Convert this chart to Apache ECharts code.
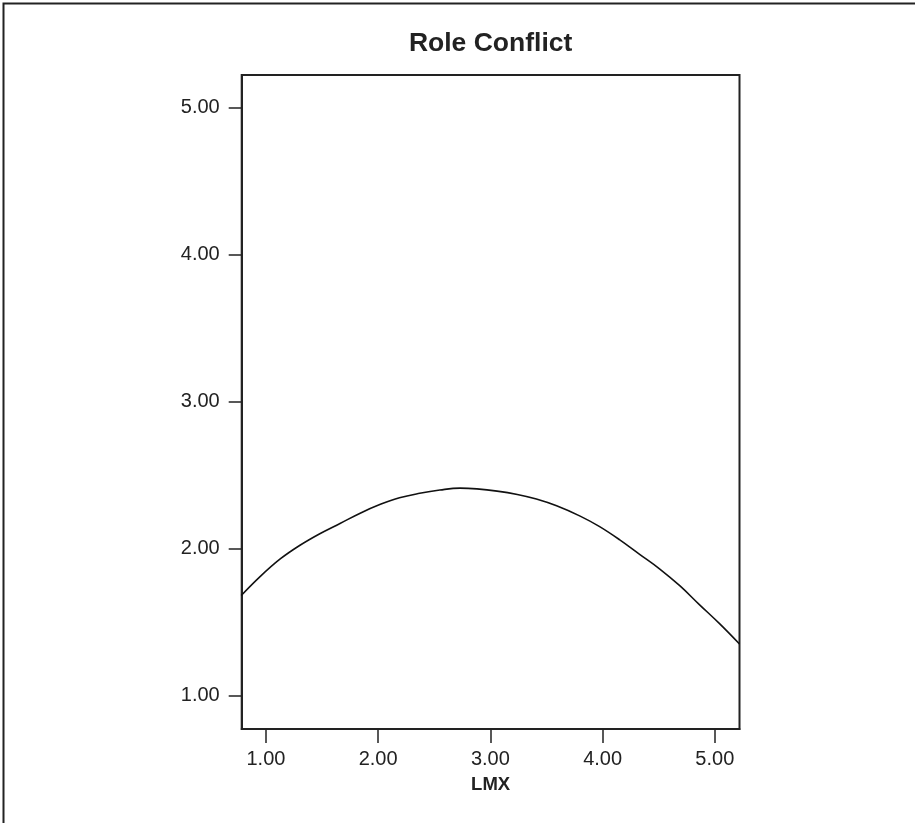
<!DOCTYPE html>
<html>
<head>
<meta charset="utf-8">
<script src="https://cdn.jsdelivr.net/npm/echarts@6/dist/echarts.min.js"></script>
<style>
  html, body { margin:0; padding:0; background:#fff; }
  #chart { width:915px; height:823px; }
</style>
</head>
<body>
<div id="chart"></div>
<script>
// values
const lmx = [0.78, 0.95, 1.13, 1.30, 1.48, 1.66, 1.84, 2.02, 2.19, 2.37, 2.55, 2.73, 2.88, 3.06, 3.24, 3.41, 3.59, 3.80, 3.97, 4.15, 4.33, 4.51, 4.69, 4.86, 5.04, 5.22]
const roleConflict = [1.68, 1.81, 1.93, 2.02, 2.10, 2.17, 2.24, 2.30, 2.345, 2.375, 2.397, 2.41, 2.405, 2.39, 2.367, 2.336, 2.29, 2.22, 2.15, 2.06, 1.96, 1.86, 1.745, 1.62, 1.49, 1.35]
const tickValues = [1, 2, 3, 4, 5]

const ink = '#222'
const font = '"Liberation Sans", Arial, sans-serif'

const chart = echarts.init(document.getElementById('chart'), null, { renderer: 'canvas' })
chart.setOption({
  animation: false,
  backgroundColor: '#fff',
  title: {
    text: 'Role Conflict',
    left: 485.6,
    top: 25,
    textAlign: 'center',
    textStyle: { fontFamily: font, fontWeight: 'bold', fontSize: 26.5, color: ink },
  },
  graphic: [{
    type: 'polyline',
    shape: { points: [[3.5, 823], [3.5, 3.5], [915, 3.5]] },
    style: { stroke: ink, lineWidth: 2, fill: null },
  }],
  grid: {
    left: 241.7, top: 75, right: 175.5, bottom: 94,
    show: true, borderColor: ink, borderWidth: 2,
  },
  xAxis: {
    type: 'value',
    min: 0.784, max: 5.22,
    name: 'LMX',
    nameLocation: 'middle',
    nameGap: 46,
    nameTextStyle: { fontFamily: font, fontWeight: 'bold', fontSize: 18.5, color: ink },
    axisLine: { lineStyle: { color: ink, width: 2 } },
    axisTick: { customValues: tickValues, length: 14, lineStyle: { color: ink, width: 1.5 } },
    axisLabel: { customValues: tickValues, margin: 20, fontFamily: font, fontSize: 20, color: ink, formatter: v => v.toFixed(2) },
    splitLine: { show: false },
  },
  yAxis: {
    type: 'value',
    min: 0.772, max: 5.22,
    axisLine: { show: true, lineStyle: { color: ink, width: 2 } },
    axisTick: { show: true, customValues: tickValues, length: 13, lineStyle: { color: ink, width: 1.5 } },
    axisLabel: { customValues: tickValues, margin: 22, fontFamily: font, fontSize: 20, color: ink, formatter: v => v.toFixed(2) },
    splitLine: { show: false },
  },
  series: [{
    type: 'line',
    data: lmx.map((x, i) => [x, roleConflict[i]]),
    showSymbol: false,
    smooth: 0.4,
    lineStyle: { color: '#111', width: 1.6 },
  }],
})
</script>
</body>
</html>
